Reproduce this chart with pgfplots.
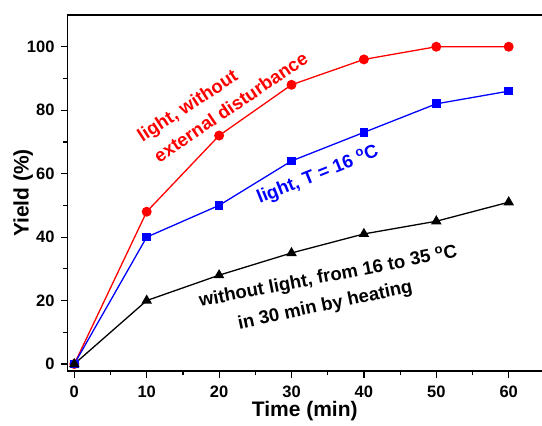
\documentclass[border=0pt]{standalone}
\usepackage{fontspec}
\setmainfont{Liberation Sans}
\usepackage{pgfplots}
\pgfplotsset{compat=1.18}
\usetikzlibrary{calc}

\newcommand{\annfont}{\fontsize{18.5}{21}\selectfont\bfseries}

\begin{document}
\begin{tikzpicture}
\begin{axis}[
  name=ax,
  scale only axis,
  width=474.5pt, height=356pt,
  xmin=-0.94, xmax=64.6,
  ymin=-2.2, ymax=110,
  axis x line*=bottom, axis y line*=left,
  axis line style={line width=1.3pt, -},
  xtick={0,10,...,60}, ytick={0,20,...,100},
  minor xtick={5,15,...,55}, minor ytick={10,30,...,90},
  tick align=outside,
  major tick length=6.5pt, minor tick length=4pt,
  every tick/.style={black, line width=1.2pt},
  /pgf/number format/assume math mode=true,
  ticklabel style={font=\fontsize{16.5}{18}\selectfont\bfseries},
  xticklabel style={yshift=-5pt},
  yticklabel style={xshift=-3pt},
  xlabel={Time (min)},
  ylabel={Yield (\%)},
  label style={font=\fontsize{21}{24}\selectfont\bfseries},
  xlabel style={yshift=3pt},
  ylabel style={yshift=-13pt},
  clip=false,
]
\addplot[red, line width=1.3pt, mark=*, mark size=4.3pt, mark options={solid}]
  coordinates {(0,0) (10,48) (20,72) (30,88) (40,96) (50,100) (60,100)};
\addplot[blue, line width=1.3pt, mark=square*, mark size=3.7pt, mark options={solid}]
  coordinates {(0,0) (10,40) (20,50) (30,64) (40,73) (50,82) (60,86)};
\addplot[black, line width=1.3pt, mark=triangle*, mark size=4.8pt, mark options={solid}]
  coordinates {(0,0) (10,20) (20,28) (30,35) (40,41) (50,45) (60,51)};

\node[red, rotate=33, anchor=base, font=\annfont] at (axis cs:16.1,79.8) {light, without};
\node[red, rotate=34, anchor=base, font=\annfont] at (axis cs:22.1,79.3) {external disturbance};
\node[blue, rotate=22, anchor=base, font=\annfont] at (axis cs:33.9,58.1) {light, T = 16 \textsuperscript{o}C};
\node[black, rotate=11, anchor=base, font=\annfont] at (axis cs:35.2,25.9) {without light, from 16 to 35 \textsuperscript{o}C};
\node[black, rotate=12, anchor=base, font=\annfont] at (axis cs:34.8,16.8) {in 30 min by heating};

\draw[line width=1.3pt] (rel axis cs:0,1) -- (rel axis cs:1,1);
\coordinate (bl) at (rel axis cs:0,0);
\coordinate (tr) at (rel axis cs:1,1);
\end{axis}
\pgfresetboundingbox
\path[use as bounding box] ($(bl)+(-67.5pt,-54pt)$) rectangle ($(tr)+(0pt,15pt)$);
\end{tikzpicture}
\end{document}
